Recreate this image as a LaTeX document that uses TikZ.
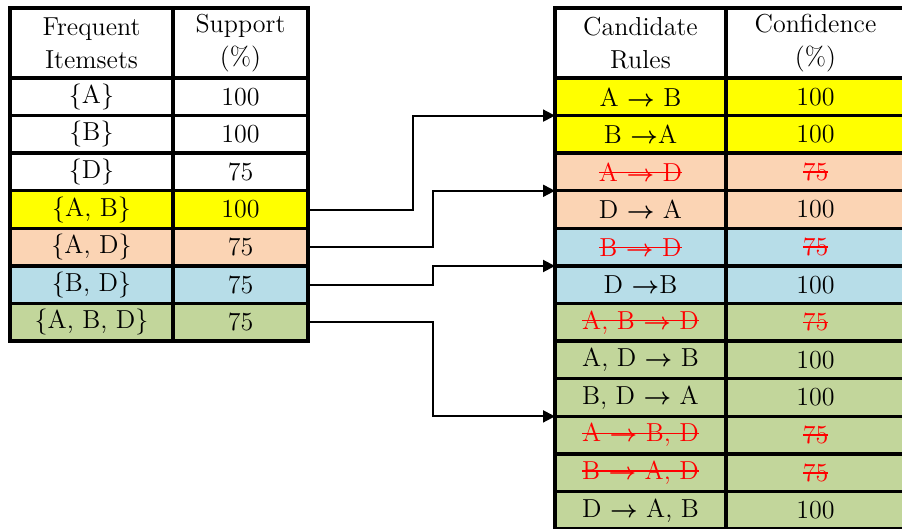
\documentclass[tikz,border=0pt]{standalone}
\usepackage{amsmath}
\usetikzlibrary{arrows.meta,calc}
\definecolor{abyellow}{HTML}{FFFF00}
\definecolor{adpeach}{HTML}{FBD4B4}
\definecolor{bdblue}{HTML}{B7DDE8}
\definecolor{abdgreen}{HTML}{C2D69B}
\newcommand{\imp}{$\boldsymbol{\rightarrow}$}
\newcommand{\drop}[1]{\textcolor{red}{\setbox0\hbox{#1}\rlap{\rule[0.3em]{\wd0}{0.06em}}\box0}}
\tikzset{
  cell/.style={draw, line width=1.7pt, minimum height=18.8pt, inner sep=0pt, outer sep=0pt,
    align=center, font=\fontsize{13}{16.5}\selectfont},
  head/.style={cell, minimum height=35pt},
  link/.style={draw, line width=1pt, -{Triangle[length=6pt,width=6pt]}}
}
\begin{document}
\begin{tikzpicture}[x=0.5pt,y=-0.5pt]
\useasboundingbox (0,0) rectangle (902,529);
% itemsets table
\node[head, minimum width=81.5pt] (hi) at (91.5,43) {Frequent\\Itemsets};
\node[head, minimum width=67.5pt] (hs) at (240.5,43) {Support\\(\%)};
\foreach \txt/\spt/\col [count=\k] in {\{A\}/100/white, \{B\}/100/white, \{D\}/75/white,
  {\{A, B\}}/100/abyellow, {\{A, D\}}/75/adpeach, {\{B, D\}}/75/bdblue, {\{A, B, D\}}/75/abdgreen}
{
  \node[cell, fill=\col, minimum width=81.5pt] (i\k) at (91.5,{78+37.6*(\k-0.5)}) {\txt};
  \node[cell, fill=\col, minimum width=67.5pt] (s\k) at (240.5,{78+37.6*(\k-0.5)}) {\spt};
}
% rules table
\node[head, minimum width=85.5pt] (hr) at (640.5,43) {Candidate\\Rules};
\node[head, minimum width=89.5pt] (hc) at (815.5,43) {Confidence\\(\%)};
\foreach \txt/\cnf/\col [count=\k] in {A \imp\ B/100/abyellow, B \imp A/100/abyellow,
  \drop{A \imp\ D}/\drop{75}/adpeach, D \imp\ A/100/adpeach,
  \drop{B \imp\ D}/\drop{75}/bdblue, D \imp B/100/bdblue,
  \drop{A, B \imp\ D}/\drop{75}/abdgreen, {A, D \imp\ B}/100/abdgreen,
  {B, D \imp\ A}/100/abdgreen, \drop{A \imp\ B, D}/\drop{75}/abdgreen,
  \drop{B \imp\ A, D}/\drop{75}/abdgreen, {D \imp\ A, B}/100/abdgreen}
{
  \node[cell, fill=\col, minimum width=85.5pt] (r\k) at (640.5,{78+37.6*(\k-0.5)}) {\txt};
  \node[cell, fill=\col, minimum width=89.5pt] (c\k) at (815.5,{78+37.6*(\k-0.5)}) {\cnf};
}
% itemset -> rules
\draw[link] (s4.east) -- ++(105,0) |- (r1.south west);
\draw[link] (s5.east) -- ++(125,0) |- (r3.south west);
\draw[link] (s6.east) -- ++(125,0) |- (r5.south west);
\draw[link] (s7.east) -- ++(125,0) |- (r9.south west);
\end{tikzpicture}
\end{document}
